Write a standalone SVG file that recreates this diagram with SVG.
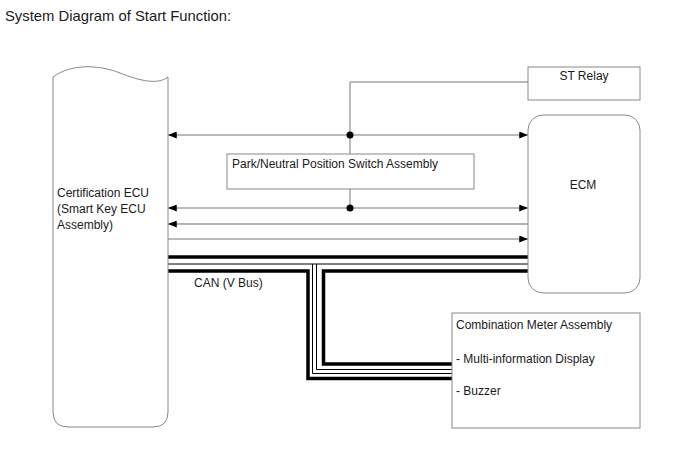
<svg xmlns="http://www.w3.org/2000/svg" width="688" height="463" viewBox="0 0 688 463">
<defs>
<style>
text{font-family:"Liberation Sans",Arial,sans-serif;font-size:12px;fill:#1a1a1a}
.title{font-size:14.8px}
.box{fill:#fff;stroke:#888;stroke-width:1}
.w{fill:none;stroke:#777;stroke-width:1}
.w2{fill:none;stroke:#999;stroke-width:1.3}
.thick{fill:none;stroke:#000;stroke-width:3.5}
.thin{fill:none;stroke:#000;stroke-width:1}
</style>
<marker id="ah" viewBox="0 0 10 8" refX="10" refY="4" markerWidth="9" markerHeight="7" markerUnits="userSpaceOnUse" orient="auto-start-reverse">
<path d="M0,0 L10,4 L0,8 Z" fill="#000"/>
</marker>
</defs>
<rect width="688" height="463" fill="#fff"/>
<text class="title" x="5" y="21">System Diagram of Start Function:</text>

<g id="connectors">
<path class="w" d="M350,135 V82 H528"/>
<path class="w" d="M350,135 V154"/>
<path class="w" d="M350,189 V208"/>
<path class="w" d="M168,135 H528" marker-start="url(#ah)" marker-end="url(#ah)"/>
<path class="w" d="M168,208 H528" marker-start="url(#ah)" marker-end="url(#ah)"/>
<path class="w2" d="M528,224 H168" marker-end="url(#ah)"/>
<path class="w" d="M168,239 H528" marker-end="url(#ah)"/>
<circle cx="350" cy="135" r="3.5" fill="#000"/>
<circle cx="350" cy="208" r="3.5" fill="#000"/>
<g id="can-bus">
<path class="thick" d="M168,257 H528"/>
<path class="thin" d="M168,264 H528"/>
<path class="thick" d="M168,271 H308 V378.5 H452"/>
<path class="thick" d="M528,271 H323.5 V364 H452"/>
<path class="thin" d="M312.5,264 V373.5 H452"/>
<path class="thin" d="M316.5,264 V369.5 H452"/>
</g>
<text x="194" y="287">CAN (V Bus)</text>
</g>

<g id="cert-ecu">
<path class="box" d="M53,77 C72,63 100,65 120,73 C140,81 158,85 168,77 V412 Q168,427 153,427 H68 Q53,427 53,412 Z"/>
<text x="57" y="197">Certification ECU</text>
<text x="57" y="213">(Smart Key ECU</text>
<text x="57" y="229">Assembly)</text>
</g>

<g id="st-relay">
<rect class="box" x="528" y="67" width="112" height="33"/>
<text x="584" y="80" text-anchor="middle">ST Relay</text>
</g>

<g id="pn-switch">
<rect class="box" x="227" y="154" width="247" height="35"/>
<text x="232" y="168">Park/Neutral Position Switch Assembly</text>
</g>

<g id="ecm">
<rect class="box" x="528" y="115" width="112" height="178" rx="15" ry="15"/>
<text x="583" y="189" text-anchor="middle">ECM</text>
</g>

<g id="combo-meter">
<rect class="box" x="452" y="313" width="188" height="115"/>
<text x="456" y="329">Combination Meter Assembly</text>
<text x="456" y="363">- Multi-information Display</text>
<text x="456" y="395">- Buzzer</text>
</g>
</svg>
